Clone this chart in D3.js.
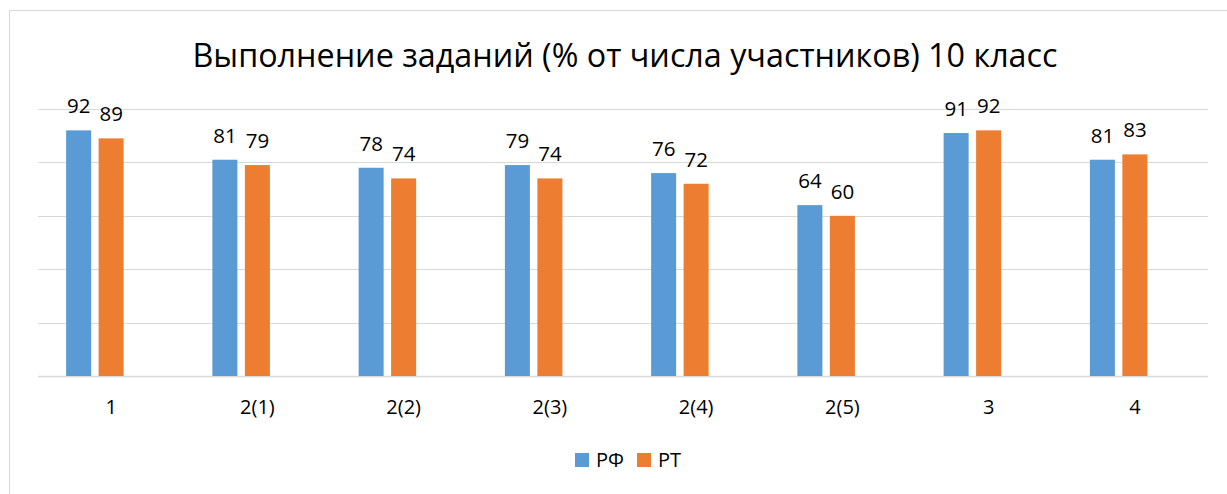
<!DOCTYPE html>
<html>
<head>
<meta charset="utf-8">
<script src="https://cdn.jsdelivr.net/npm/d3@7"></script>
<style>
  body { margin: 0; background: #fff; }
  svg text { font-family: "Open Sans", sans-serif; fill: #000; }
</style>
</head>
<body>
<svg id="root"></svg>
<script>
(function () {
  // data
  const categories = ["1", "2(1)", "2(2)", "2(3)", "2(4)", "2(5)", "3", "4"];
  const seriesNames = ["РФ", "РТ"];
  const valuesRF = [92, 81, 78, 79, 76, 64, 91, 81];
  const valuesRT = [89, 79, 74, 74, 72, 60, 92, 83];
  const yTicks = [0, 20, 40, 60, 80, 100];
  const colors = ["#5B9BD5", "#ED7D31"];
  const title = "Выполнение заданий (% от числа участников) 10 класс";

  const width = 1227, height = 494;
  const plot = { left: 38, right: 1208, top: 109, bottom: 376 };

  let svg = d3.select("#root")
    .attr("width", width)
    .attr("height", height);

  // chart frame (runs off the right and bottom edges)
  svg.append("rect")
    .attr("x", 9.5).attr("y", 10.5)
    .attr("width", 1240).attr("height", 500)
    .attr("fill", "#fff")
    .attr("stroke", "#D9D9D9");

  svg.append("text")
    .attr("x", 625).attr("y", 67)
    .attr("text-anchor", "middle")
    .style("font-size", "32.3px")
    .text(title);

  let x0 = d3.scaleBand()
    .domain(categories)
    .range([plot.left, plot.right]);

  // three slots per group, third one is empty in the source chart
  let x1 = d3.scaleBand()
    .domain([0, 1, 2])
    .range([-45, 45])
    .paddingInner(0.23);

  let y = d3.scaleLinear()
    .domain([0, 100])
    .range([plot.bottom, plot.top]);

  // gridlines
  svg.append("g")
    .selectAll("line")
    .data(yTicks)
    .enter().append("line")
    .attr("x1", plot.left).attr("x2", plot.right)
    .attr("y1", d => Math.round(y(d)) + 0.5)
    .attr("y2", d => Math.round(y(d)) + 0.5)
    .attr("stroke", "#D9D9D9")
    .attr("stroke-width", d => d === 0 ? 1.5 : 1);

  let rows = categories.map((c, i) => ({ cat: c, vals: [valuesRF[i], valuesRT[i]] }));

  let groups = svg.append("g")
    .selectAll(".grp")
    .data(rows)
    .enter().append("g")
    .attr("class", "grp")
    .attr("transform", d => `translate(${x0(d.cat) + x0.bandwidth() / 2},0)`);

  groups.each(function (d) {
    let g = d3.select(this);
    d.vals.forEach((v, s) => {
      g.append("rect")
        .attr("x", x1(s))
        .attr("y", y(v))
        .attr("width", x1.bandwidth())
        .attr("height", y(0) - y(v))
        .attr("fill", colors[s]);

      g.append("text")
        .attr("x", x1(s) + x1.bandwidth() / 2)
        .attr("y", y(v) - 17)
        .attr("text-anchor", "middle")
        .style("font-size", "20.5px")
        .text(v);
    });
  });

  // category axis labels
  let xAxis = d3.axisBottom(x0).tickSize(0).tickPadding(0);
  let axisG = svg.append("g")
    .attr("transform", `translate(0,${plot.bottom})`)
    .call(xAxis);
  axisG.select(".domain").remove();
  axisG.selectAll("text")
    .attr("y", 38)
    .attr("dy", null)
    .style("font-size", "20px")
    .style("font-family", "'Open Sans', sans-serif")
    .attr("fill", "#000");

  // legend
  let legendX = [575, 637];
  let legend = svg.append("g")
    .selectAll("g")
    .data(seriesNames)
    .enter().append("g")
    .attr("transform", (d, i) => `translate(${legendX[i]},453)`);
  legend.append("rect")
    .attr("width", 14).attr("height", 14)
    .attr("fill", (d, i) => colors[i]);
  legend.append("text")
    .attr("x", 21).attr("y", 13.5)
    .style("font-size", "20px")
    .text(d => d);
})();
</script>
</body>
</html>
